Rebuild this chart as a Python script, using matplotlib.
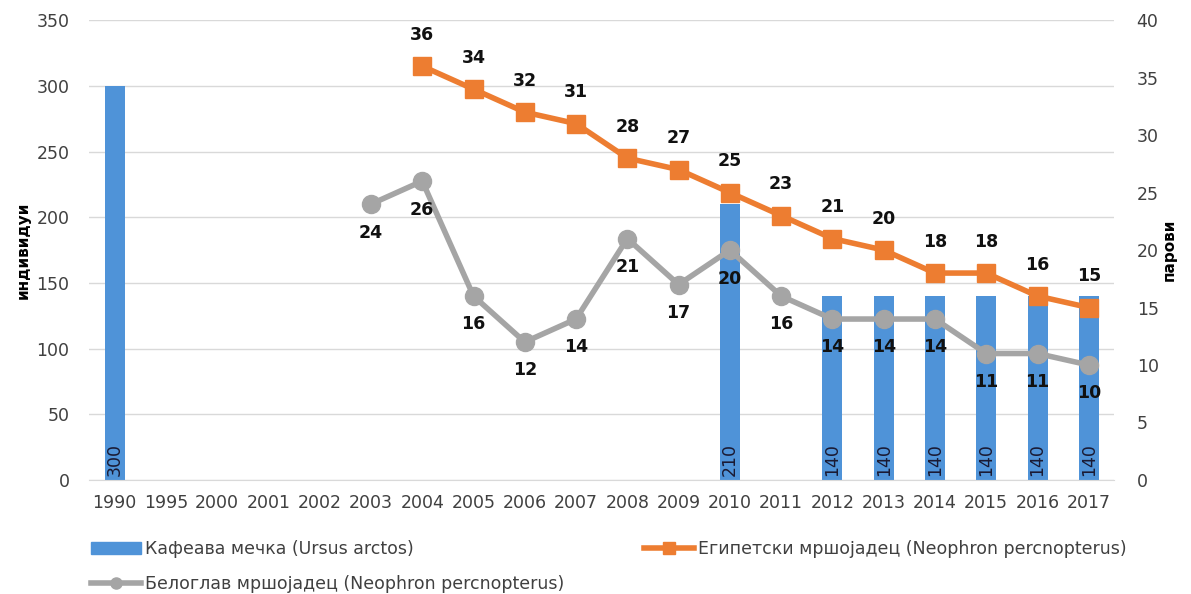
import matplotlib.pyplot as plt
import numpy as np
from matplotlib.lines import Line2D
from matplotlib.patches import Patch

years = ["1990", "1995", "2000", "2001", "2002", "2003", "2004", "2005", "2006", "2007",
         "2008", "2009", "2010", "2011", "2012", "2013", "2014", "2015", "2016", "2017"]
bear = [300, None, None, None, None, None, None, None, None, None,
        None, None, 210, None, 140, 140, 140, 140, 140, 140]
egyptian = [None, None, None, None, None, None, 36, 34, 32, 31,
            28, 27, 25, 23, 21, 20, 18, 18, 16, 15]
griffon = [None, None, None, None, None, 24, 26, 16, 12, 14,
           21, 17, 20, 16, 14, 14, 14, 11, 11, 10]

bear_lbl = "Кафеава мечка (Ursus arctos)"
egy_lbl = "Египетски мршојадец (Neophron percnopterus)"
gri_lbl = "Белоглав мршојадец (Neophron percnopterus)"

c_bar = "#4F93D8"
c_org = "#ED7D31"
c_gry = "#A5A5A5"
c_txt = "#404040"

x = np.arange(len(years))
fig = plt.figure(figsize=(11.91, 5.94), dpi=100)
ax = fig.add_axes([0.0747, 0.192, 0.861, 0.774])
ax2 = ax.twinx()

bx = [i for i, v in zip(x, bear) if v is not None]
bv = [v for v in bear if v is not None]
ax.bar(bx, bv, width=0.39, color=c_bar, zorder=2)
for i, v in zip(bx, bv):
    ax.text(i, 3, str(v), rotation=90, ha="center", va="bottom", fontsize=12.5,
            color="#1A1A33", zorder=3)

ex = [i for i, v in zip(x, egyptian) if v is not None]
ev = [v for v in egyptian if v is not None]
gx = [i for i, v in zip(x, griffon) if v is not None]
gv = [v for v in griffon if v is not None]

ax2.plot(gx, gv, color=c_gry, lw=4, marker="o", ms=13, zorder=3)
ax2.plot(ex, ev, color=c_org, lw=4, marker="s", ms=13, zorder=4)
for i, v in zip(ex, ev):
    ax2.annotate(str(v), (i, v), xytext=(0, 16), textcoords="offset points",
                 ha="center", va="bottom", fontsize=12.5, fontweight="bold", color="#111111")
for i, v in zip(gx, gv):
    ax2.annotate(str(v), (i, v), xytext=(0, -14), textcoords="offset points",
                 ha="center", va="top", fontsize=12.5, fontweight="bold", color="#111111")

ax.set_xlim(-0.5, len(years) - 0.5)
ax.set_ylim(0, 350)
ax.set_yticks(range(0, 351, 50))
ax2.set_ylim(0, 40)
ax2.set_yticks(range(0, 41, 5))
ax.set_xticks(x)
ax.set_xticklabels(years)
ax.grid(axis="y", color="#D9D9D9", lw=1, zorder=0)
ax.set_axisbelow(True)
for a in (ax, ax2):
    for s in a.spines.values():
        s.set_visible(False)
    a.tick_params(length=0, labelsize=12.5, colors=c_txt)
ax.spines["bottom"].set_visible(True)
ax.spines["bottom"].set_color("#D9D9D9")
ax.tick_params(axis="x", pad=10, labelsize=12.5)
ax.tick_params(axis="y", pad=14)
ax2.tick_params(axis="y", pad=16)
ax.set_ylabel("индивидуи", fontsize=11, fontweight="bold", labelpad=4)
ax2.set_ylabel("парови", fontsize=11, fontweight="bold", rotation=90, labelpad=2)

handles = [Patch(color=c_bar),
           Line2D([], [], color=c_gry, lw=4, marker="o", ms=8),
           Line2D([], [], color=c_org, lw=4, marker="s", ms=8)]
fig.legend(handles, [bear_lbl, gri_lbl, egy_lbl], ncol=2, loc="upper left",
           bbox_to_anchor=(0.069, 0.105), frameon=False, fontsize=12.5,
           labelcolor=c_txt, handlelength=2.9, handletextpad=0.2,
           columnspacing=4.6, labelspacing=0.95, borderpad=0)

fig.savefig("out.png", dpi=100)
